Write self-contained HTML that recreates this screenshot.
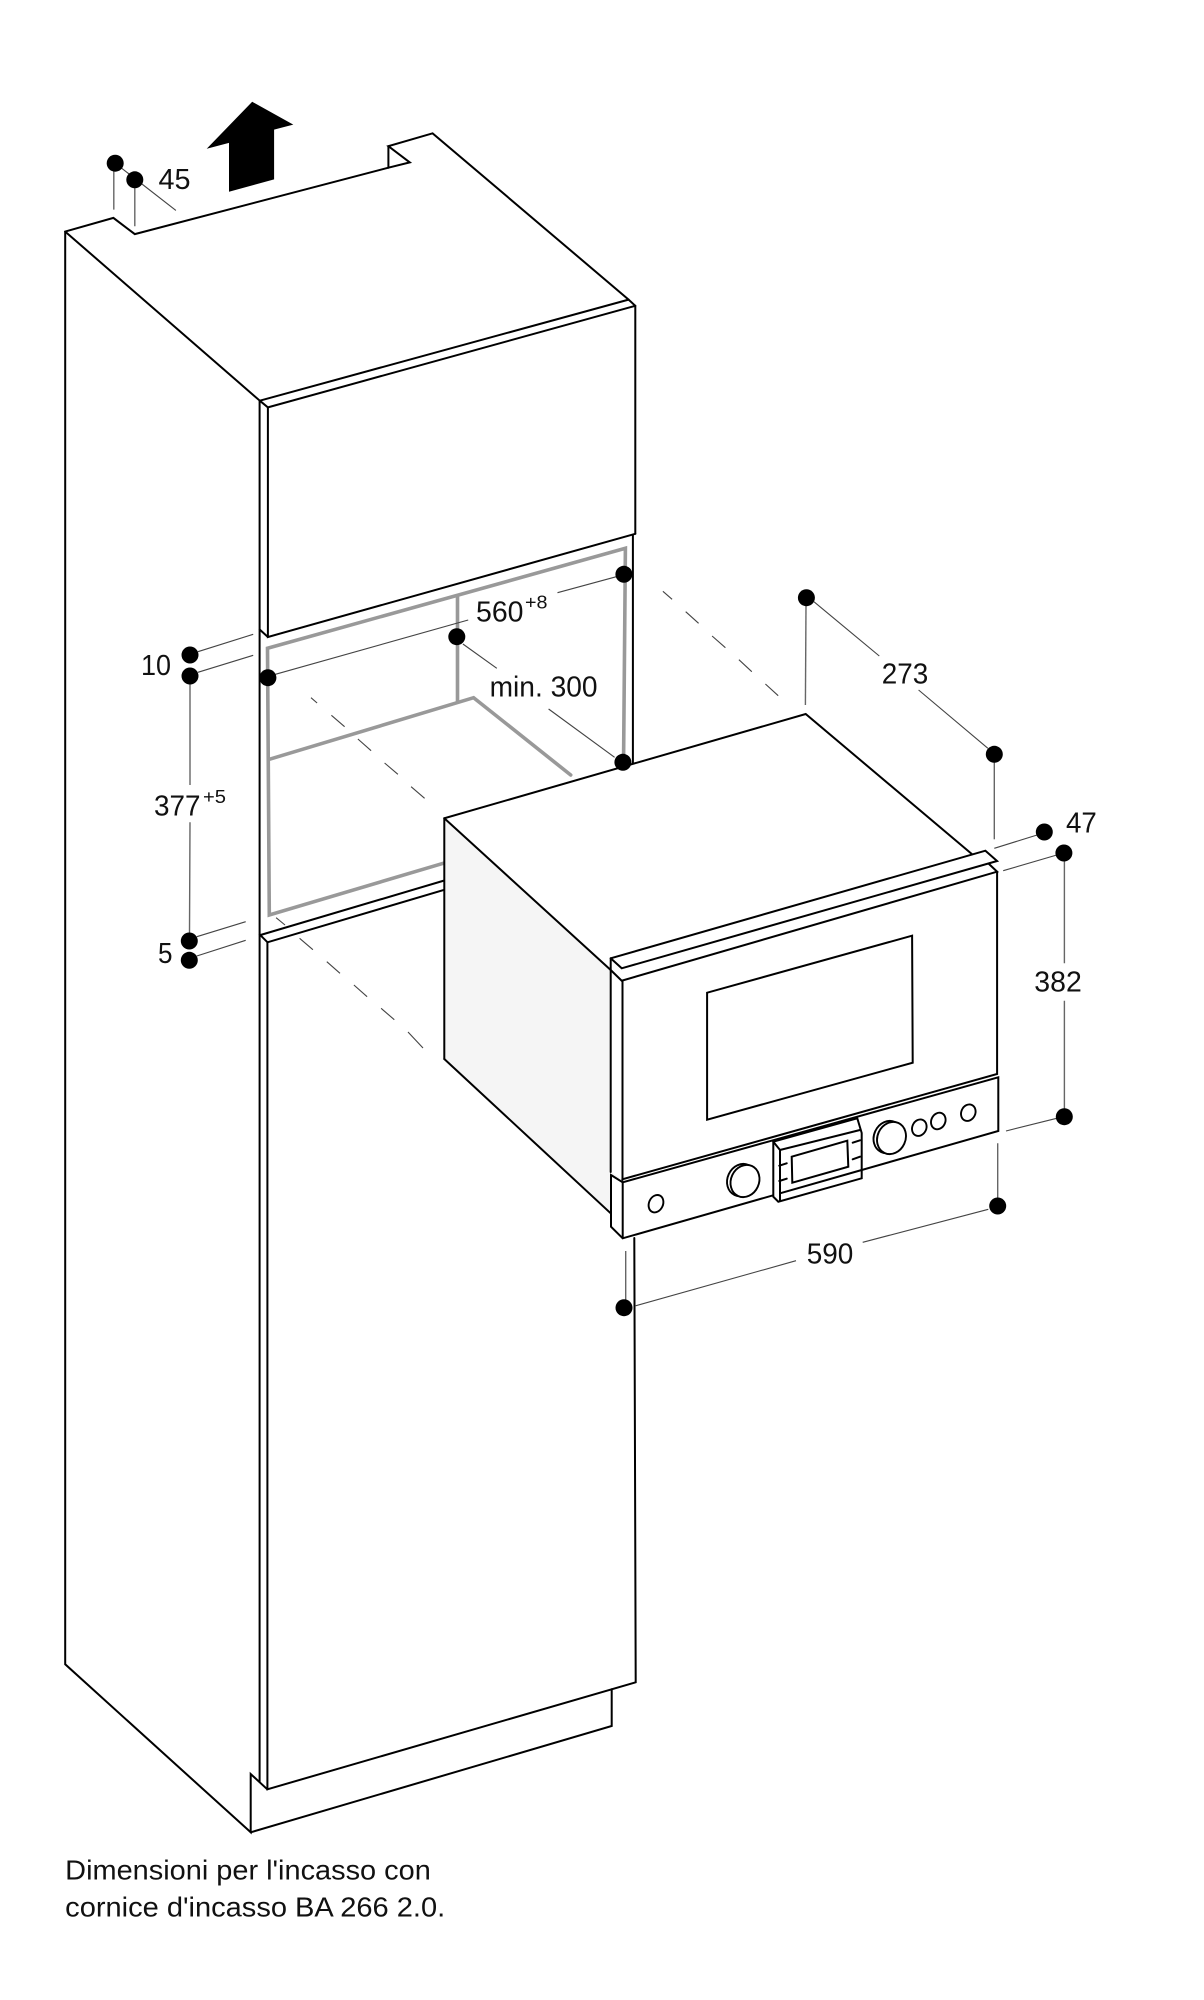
<!DOCTYPE html>
<html>
<head>
<meta charset="utf-8">
<style>
html,body{margin:0;padding:0;background:#fff;}
svg{display:block;}
text{font-family:"Liberation Sans",sans-serif;fill:#111;}
.o{fill:none;stroke:#000;stroke-width:2;stroke-linejoin:miter;stroke-linecap:round;}
.g{fill:none;stroke:#999;stroke-width:3.6;stroke-linecap:round;stroke-linejoin:miter;}
.d{fill:none;stroke:#444;stroke-width:1.1;}
.e{fill:none;stroke:#666;stroke-width:1.4;}
.k{fill:#fff;stroke:#000;stroke-width:1.9;}
</style>
</head>
<body>
<svg xmlns="http://www.w3.org/2000/svg" width="1204" height="2000" viewBox="0 0 1204 2000">
<rect width="1204" height="2000" fill="#fff"/>

<!-- arrow -->
<polygon points="252.2,101.8 293.3,124.6 274.1,129.6 274.1,179.4 229,191.8 229,142.9 206.7,148.7" fill="#000"/>

<!-- cabinet outline -->
<path class="o" d="M65.2,231.6 L113.4,217.9 L134.8,234.1 L388.4,167.7 L409.8,162.4 L388.4,146.2 L432.6,133.3 L628.6,299.6 L635.3,305.8 L635.3,533.8"/>
<path class="o" d="M388.4,146.2 V167.7"/>
<path class="o" d="M65.2,231.6 V1664.3 L250.7,1832.3 V1774 L267.3,1789.3"/>
<path class="o" d="M65.2,231.6 L259.8,400.7 L628.6,299.6"/>
<path class="o" d="M259.8,400.7 L267.9,407.4 L635.3,305.8"/>
<path class="o" d="M259.6,400.7 V1781.7"/>
<path class="o" d="M267.9,407.4 V637 L635.3,533.8"/>
<path class="o" d="M259.8,629.6 L267.9,637"/>
<path class="o" d="M632.9,535 V765" stroke-width="1.6"/>

<!-- lower panel -->
<path class="o" d="M259.8,934.6 L267.5,942.3 L446,889.3"/>
<path class="o" d="M260.5,935 L446,880"/>
<path class="o" d="M267.4,942.3 V1789.3 L635.7,1682.3 L634.3,1238"/>
<path class="o" d="M611.7,1689.3 V1726 L250.7,1832.3"/>

<!-- grey niche -->
<path class="g" d="M623.6,756.7 L625.4,548.3 L267.5,648.3 L269.3,915 L443.2,863.3"/>
<path class="g" d="M457.5,596.7 V701.7"/>
<path class="g" d="M269.3,759.3 L473.6,697.7 L570.7,775"/>

<!-- dashed lines -->
<path class="d" d="M662.9,591.3 L672.1,599.3 M685.7,611.7 L698.6,623.3 M712.1,636 L725.4,647.7 M738.9,659.7 L751.8,671.7 M765.4,684 L778.2,695.7"/>
<path class="d" d="M311,697.7 L317.1,703 M331.4,715.3 L344.6,726.7 M357.9,739 L371.1,750.7 M384.6,763 L397.9,774.3 M411.1,786.7 L424.6,798.3"/>
<path class="d" d="M276.1,917.7 L285,925 M299.6,938.3 L312.9,949.7 M326.8,961.7 L340,973.3 M353.9,985 L367.1,996.7 M381.1,1008.3 L394.3,1019.7 M408,1032 L423,1048"/>

<!-- oven body -->
<polygon points="444.3,818.3 610.7,968 622,1240 610.7,1213 444.3,1059" fill="#f5f5f5"/>
<polygon points="444.3,818.3 805.7,714 971.8,854 985.4,850.7 997,861 997,871 611,970" fill="#fff"/>
<path class="o" d="M444.3,1059 V818.3 L805.7,714 L971.8,854"/>
<path class="o" d="M444.3,818.3 L610.7,970"/>
<path class="o" d="M444.3,1059 L610.7,1213.3"/>
<!-- door -->
<polygon points="610.7,958.3 985.4,850.7 997.1,861 997.1,1074 622.3,1179.3 610.7,1172" fill="#fff"/>
<path class="o" d="M610.7,958.3 L985.4,850.7 L997.1,861 L621.7,968.3 L610.7,958.3"/>
<path class="o" d="M610.7,958.3 V1172"/>
<path class="o" d="M610.7,970 L621.7,980.7 L997.1,871.7 L989,864"/>
<path class="o" d="M622.5,980.7 V1180"/>
<path class="o" d="M997.1,871.7 V1074 L622.3,1179.3"/>
<path class="o" d="M912.1,935.7 L707.1,992.7 V1119.7 L912.7,1062.7 Z"/>
<!-- control panel -->
<polygon points="611,1175 622.7,1182.3 998.3,1077.3 998.3,1131 622.7,1238.3 611,1226.7" fill="#fff"/>
<path class="o" d="M611,1175 L622.7,1182.3 L998.3,1077.3 V1131 L622.7,1238.3 L611,1226.7 Z"/>
<path class="o" d="M622.7,1182.3 V1238.3"/>
<!-- display -->
<polygon points="773.3,1141.7 857.3,1118.3 862,1136 862,1178.3 778.3,1201.7 773.3,1196.7" fill="#fff"/>
<path class="o" d="M773.3,1141.7 L857.3,1118.3 L861.7,1133 V1178.3 L778.3,1201.7 L773.3,1196.7 Z"/>
<path class="o" d="M773.3,1141.7 L780,1150 L860,1130"/>
<path class="o" d="M780,1150 V1201"/>
<path class="o" d="M780,1193.3 L861.7,1170"/>
<path class="o" d="M791.7,1156.7 L847.3,1140.7 L848.3,1166.7 L792.3,1182.7 Z"/>
<path class="o" d="M779.3,1165.7 L786.7,1163.3 M779.3,1181 L786.7,1178.7 M852.7,1142.7 L860,1140.3 M852.7,1159.3 L860,1156.7" stroke-width="1.5"/>
<!-- knobs -->
<ellipse class="k" cx="741.5" cy="1180" rx="14" ry="16.5" transform="rotate(25 741.5 1180)"/>
<ellipse class="k" cx="745" cy="1181" rx="14" ry="16.5" transform="rotate(25 745 1181)"/>
<ellipse class="k" cx="888" cy="1137" rx="14" ry="16.5" transform="rotate(25 888 1137)"/>
<ellipse class="k" cx="891.5" cy="1138" rx="14" ry="16.5" transform="rotate(25 891.5 1138)"/>
<ellipse class="k" cx="656" cy="1203.7" rx="7" ry="9" transform="rotate(25 656 1203.7)"/>
<ellipse class="k" cx="919.3" cy="1127.7" rx="7" ry="8.5" transform="rotate(25 919.3 1127.7)"/>
<ellipse class="k" cx="938.3" cy="1121" rx="7" ry="8.5" transform="rotate(25 938.3 1121)"/>
<ellipse class="k" cx="968.3" cy="1112.7" rx="7" ry="8.5" transform="rotate(25 968.3 1112.7)"/>

<!-- dimension lines -->
<path class="e" d="M113.8,163 V209.6 M134.8,180 V226.2"/>
<path class="d" d="M115.2,163.2 L175.9,210.4"/>
<path class="d" d="M197.9,651.7 L253.2,634.3 M197.9,672.3 L253.2,655.3"/>
<path class="e" d="M190,683.3 V785 M190,822.3 L189.5,933"/>
<path class="d" d="M196.8,936.7 L245.7,921.7 M196.8,956 L245.7,940.3"/>
<path class="d" d="M275.4,674.3 L468.2,620 M557.5,592.7 L616.4,576.7"/>
<path class="d" d="M462.9,644 L496.8,668.3 M548.6,709 L614.6,757.3"/>
<path class="e" d="M806,605 L805.4,705"/>
<path class="d" d="M813.9,601.7 L879.3,656 M918.6,690 L987.9,748.3"/>
<path class="e" d="M994.3,761.7 V839.3"/>
<path class="d" d="M994.3,848.3 L1037.1,835 M1003.2,870.7 L1056.8,855"/>
<path class="e" d="M1064.4,860 V963.3 M1064.4,1000.7 V1110"/>
<path class="d" d="M1006,1131 L1056.7,1118.3"/>
<path class="e" d="M997.7,1143.3 V1198 M625.7,1251 V1300"/>
<path class="d" d="M635,1306 L796,1260.7 M862.7,1242.3 L988.3,1209.3"/>

<!-- dots -->
<g fill="#000">
<circle cx="115.2" cy="163.2" r="8.5"/>
<circle cx="134.8" cy="179.8" r="8.5"/>
<circle cx="190" cy="655" r="8.5"/>
<circle cx="190" cy="676" r="8.5"/>
<circle cx="267.9" cy="677.7" r="8.5"/>
<circle cx="456.8" cy="636.7" r="8.5"/>
<circle cx="623.9" cy="574.3" r="8.5"/>
<circle cx="622.9" cy="762.3" r="8.5"/>
<circle cx="189.3" cy="941" r="8.5"/>
<circle cx="189.3" cy="960.3" r="8.5"/>
<circle cx="806.4" cy="597.7" r="8.5"/>
<circle cx="994.3" cy="754.3" r="8.5"/>
<circle cx="1044.3" cy="832" r="8.5"/>
<circle cx="1063.9" cy="853" r="8.5"/>
<circle cx="1064.3" cy="1116.7" r="8.5"/>
<circle cx="997.7" cy="1206" r="8.5"/>
<circle cx="624" cy="1307.7" r="8.5"/>
</g>

<!-- labels -->
<g font-size="28.5">
<text x="158.5" y="189" textLength="32" lengthAdjust="spacingAndGlyphs">45</text>
<text x="141" y="675" textLength="30" lengthAdjust="spacingAndGlyphs">10</text>
<text x="158" y="963" textLength="14.5" lengthAdjust="spacingAndGlyphs">5</text>
<text x="154" y="815.7" textLength="46.5" lengthAdjust="spacingAndGlyphs">377</text>
<text x="476" y="621.7" textLength="47.5" lengthAdjust="spacingAndGlyphs">560</text>
<text x="489.6" y="696.7" textLength="108" lengthAdjust="spacingAndGlyphs">min. 300</text>
<text x="881.8" y="683.3" textLength="46.5" lengthAdjust="spacingAndGlyphs">273</text>
<text x="1066" y="832.7" textLength="30.8" lengthAdjust="spacingAndGlyphs">47</text>
<text x="1034.3" y="991.7" textLength="47.5" lengthAdjust="spacingAndGlyphs">382</text>
<text x="806.7" y="1263.3" textLength="46.6" lengthAdjust="spacingAndGlyphs">590</text>
</g>
<g font-size="18.5">
<text x="203" y="803" textLength="23" lengthAdjust="spacingAndGlyphs">+5</text>
<text x="525" y="608.3" textLength="22.5" lengthAdjust="spacingAndGlyphs">+8</text>
</g>
<g font-size="28">
<text x="65.2" y="1879.3" textLength="365.6" lengthAdjust="spacingAndGlyphs">Dimensioni per l'incasso con</text>
<text x="65.2" y="1916.7" textLength="380" lengthAdjust="spacingAndGlyphs">cornice d'incasso BA 266 2.0.</text>
</g>
</svg>
</body>
</html>
